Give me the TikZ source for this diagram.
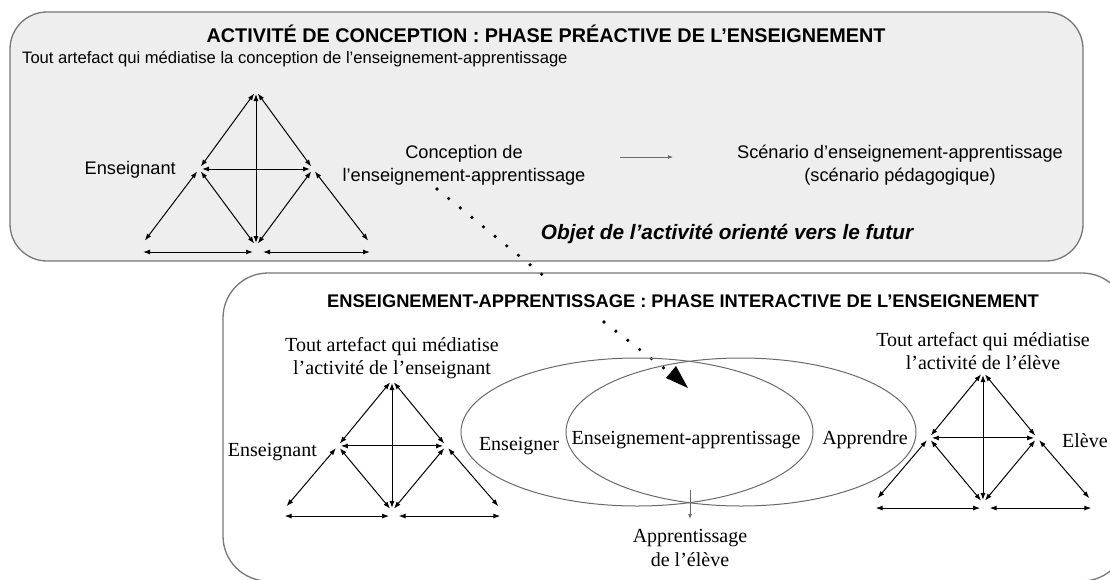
\documentclass[tikz,border=0pt]{standalone}
\usepackage{fontspec}
\setmainfont{Liberation Serif}
\setsansfont{Liberation Sans}
\usetikzlibrary{arrows.meta,shapes.geometric}
\definecolor{boxline}{HTML}{777777}
\definecolor{boxfill}{HTML}{EEEEEE}
\definecolor{ellline}{HTML}{6A6A6A}
\tikzset{
  box/.style={draw=boxline, line width=1.3pt, rounded corners=#1},
  dbl/.style={{Latex[length=7pt,width=5pt]}-{Latex[length=7pt,width=5pt]}, line width=1pt, shorten <=3pt, shorten >=3pt},
  lbl/.style={inner sep=0pt, align=center},
  sanslbl/.style={lbl, font=\sffamily\fontsize{18.2}{23}\selectfont},
  sanstitle/.style={lbl, font=\sffamily\bfseries\fontsize{#1}{22}\selectfont},
  seriflbl/.style={lbl, font=\fontsize{20}{22.5}\selectfont},
  thinarrow/.style={draw=ellline, line width=0.8pt, -{Latex[length=5pt,width=4pt]}},
  dotline/.style={line width=3.6pt, line cap=round, dash pattern=on 0pt off 15pt},
  ell/.style={ellipse, draw=ellline, line width=1pt, inner sep=0pt},
  tri/.pic={
    \coordinate (-A) at (0,0);
    \coordinate (-L) at (-57,78);
    \coordinate (-R) at (57,78);
    \coordinate (-BL) at (-113,152);
    \coordinate (-BM) at (0,155);
    \coordinate (-BR) at (114,152);
    \coordinate (-bl) at (-113,161);
    \coordinate (-bm1) at (-3,161);
    \coordinate (-bm2) at (7,161);
    \coordinate (-br) at (114,161);
    \draw[dbl] (-A) -- (-L);
    \draw[dbl] (-A) -- (-R);
    \draw[dbl] (-A) -- (-BM);
    \draw[dbl] (-L) -- (-R);
    \draw[dbl] (-L) -- (-BL);
    \draw[dbl] (-L) -- (-BM);
    \draw[dbl] (-R) -- (-BM);
    \draw[dbl] (-R) -- (-BR);
    \draw[dbl, shorten <=0pt, shorten >=0pt] (-bl) -- (-bm1);
    \draw[dbl, shorten <=0pt, shorten >=0pt] (-bm2) -- (-br);
  }
}
\begin{document}
\begin{tikzpicture}[x=1pt,y=-1pt]
\useasboundingbox (0,0) rectangle (1110,579);
\fill[white] (0,0) rectangle (1110,579);

% top box
\path[box=37pt, fill=boxfill] (10,12) rectangle (1083,261);
% bottom box
\begin{scope}
\clip (0,0) rectangle (1110,579);
\path[box=45pt, fill=white] (223,273) rectangle (1127,581);
\end{scope}

% ---- top box content
\node[sanstitle=19.8] (ttitle) at (546,34) {ACTIVITÉ DE CONCEPTION : PHASE PRÉACTIVE DE L’ENSEIGNEMENT};
\node[lbl, font=\sffamily\fontsize{16.6}{20}\selectfont, anchor=west] (tart) at (22,59) {Tout artefact qui médiatise la conception de l’enseignement-apprentissage};
\pic (t1) at (256,91) {tri};
\node[sanslbl, anchor=east] (tens) at (176,170) {Enseignant};
\node[sanslbl] (conc) at (464,165) {Conception de\\l’enseignement-apprentissage};
\node[sanslbl] (scen) at (900,165) {Scénario d’enseignement-apprentissage\\(scénario pédagogique)};
\coordinate (arrS) at (620,157);
\coordinate (arrE) at (673,157);
\draw[thinarrow] (arrS) -- (arrE);
\node[lbl, font=\sffamily\bfseries\itshape\fontsize{20.8}{24}\selectfont] (objet) at (727,234) {Objet de l’activité orienté vers le futur};

% dotted link
\coordinate (d1) at (437,189);
\coordinate (d2) at (545,277);
\coordinate (d3) at (604,322);
\coordinate (d4) at (665,369);
\draw[dotline] (d1) -- (d2);
\draw[dotline] (d3) -- (d4);
\coordinate (tipA) at (666,378);
\coordinate (tipB) at (676,366);
\coordinate (tipC) at (688,388);
\fill (tipA) -- (tipB) -- (tipC) -- cycle;

% ---- bottom box content
\node[sanstitle=18.3] (btitle) at (683,301.5) {ENSEIGNEMENT-APPRENTISSAGE : PHASE INTERACTIVE DE L’ENSEIGNEMENT};

\pic[xscale=0.95, yscale=0.845] (t2) at (392,380) {tri};
\node[seriflbl] (artL) at (392,358) {Tout artefact qui médiatise\\l’activité de l’enseignant};
\node[seriflbl, anchor=east] (ensL) at (317,452) {Enseignant};

\pic[xscale=0.95, yscale=0.845] (t3) at (983,372) {tri};
\node[seriflbl] (artR) at (983,351) {Tout artefact qui médiatise\\l’activité de l’élève};
\node[seriflbl, anchor=west] (elv) at (1062,441) {Elève};

\node[ell, minimum width=352pt, minimum height=148pt] (eA) at (637,432) {};
\node[ell, minimum width=350pt, minimum height=148pt] (eB) at (741,432) {};
\node[seriflbl] (ensr) at (519,446) {Enseigner};
\node[seriflbl] (ea) at (686,440) {Enseignement-apprentissage};
\node[seriflbl] (app) at (865,440) {Apprendre};
\coordinate (aS) at (690,490);
\coordinate (aE) at (690,519);
\draw[thinarrow] (aS) -- (aE);
\node[seriflbl, font=\fontsize{20}{24}\selectfont] (appr) at (690,548) {Apprentissage\\de l’élève};
\end{tikzpicture}
\end{document}
